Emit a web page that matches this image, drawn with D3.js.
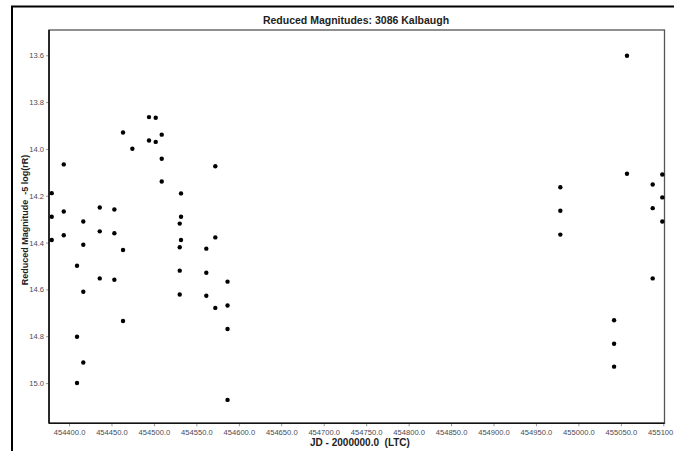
<!DOCTYPE html>
<html>
<head>
<meta charset="utf-8">
<script src="https://cdn.jsdelivr.net/npm/d3@7"></script>
<style>
  body { margin: 0; background: #fff; }
  svg { display: block; font-family: "Liberation Sans", Arial, sans-serif; }
  .tick text { fill: #4a4a55; font-size: 7.6px; }
</style>
</head>
<body>
<svg id="chart" width="674" height="451"></svg>
<script>
// ========== Data ==========
const title = 'Reduced Magnitudes: 3086 Kalbaugh';
const xLabel = 'JD - 2000000.0  (LTC)';
const yLabel = 'Reduced Magnitude  -5 log(rR)';

const jd = [
  454379.6, 454379.6, 454379.6,
  454393.8, 454393.8, 454393.8,
  454409.4, 454409.4, 454409.4,
  454416.8, 454416.8, 454416.8, 454416.8,
  454436.2, 454436.2, 454436.2,
  454453.4, 454453.4, 454453.4,
  454463.6, 454463.6, 454463.6,
  454474.6,
  454494.2, 454494.2,
  454502.1, 454502.1,
  454509.2, 454509.2, 454509.2,
  454530.4, 454530.4, 454530.4, 454530.4,
  454531.9, 454531.9, 454531.9,
  454561.7, 454561.7, 454561.7,
  454572.3, 454572.3, 454572.3,
  454586.7, 454586.7, 454586.7, 454586.7,
  454978.7, 454978.7, 454978.7,
  455042.0, 455042.0, 455042.0,
  455057.2, 455057.2,
  455087.5, 455087.5, 455087.5,
  455098.8, 455098.8, 455098.8
];
const mag = [
  14.189, 14.290, 14.389,
  14.066, 14.267, 14.369,
  14.499, 14.802, 15.000,
  14.310, 14.409, 14.610, 14.912,
  14.250, 14.352, 14.553,
  14.259, 14.360, 14.559,
  13.930, 14.432, 14.735,
  13.999,
  13.864, 13.964,
  13.867, 13.970,
  13.939, 14.042, 14.139,
  14.319, 14.420, 14.520, 14.622,
  14.190, 14.290, 14.389,
  14.426, 14.529, 14.627,
  14.074, 14.378, 14.679,
  14.567, 14.669, 14.769, 15.072,
  14.164, 14.264, 14.366,
  14.732, 14.832, 14.930,
  13.602, 14.106,
  14.152, 14.253, 14.553,
  14.109, 14.207, 14.310
];

const xTicks = d3.range(454400, 455100.1, 50);
const yTicks = [13.6, 13.8, 14.0, 14.2, 14.4, 14.6, 14.8, 15.0];

// ========== Config ==========
const plot = { left: 49, top: 30, right: 664.5, bottom: 423.3 };

const svg = d3.select('#chart');

// ========== Outer Frame ==========
svg.append('path')
  .attr('d', `M12,451 V6.5 H674`)
  .attr('fill', 'none')
  .attr('stroke', '#000')
  .attr('stroke-width', 2);

// ========== Scales ==========
const x = d3.scaleLinear()
  .domain([454376.4, 455101.4])
  .range([plot.left, plot.right]);

const y = d3.scaleLinear()
  .domain([13.492, 15.172])
  .range([plot.top, plot.bottom]);

// ========== Axes ==========
const xAxis = svg.append('g')
  .attr('transform', `translate(0, ${plot.bottom})`)
  .call(d3.axisBottom(x).tickValues(xTicks).tickSize(3).tickPadding(3)
    .tickFormat(d3.format('.1f')));

const yAxis = svg.append('g')
  .attr('transform', `translate(${plot.left}, 0)`)
  .call(d3.axisLeft(y).tickValues(yTicks).tickSize(3).tickPadding(2)
    .tickFormat(d3.format('.1f')));

[xAxis, yAxis].forEach(a => {
  a.select('.domain').remove();
  a.selectAll('.tick line').attr('stroke', '#999');
});

// Plot frame
svg.append('rect')
  .attr('x', plot.left)
  .attr('y', plot.top)
  .attr('width', plot.right - plot.left)
  .attr('height', plot.bottom - plot.top)
  .attr('fill', 'none')
  .attr('stroke', '#555')
  .attr('stroke-width', 1.3);

svg.append('line')
  .attr('x1', plot.left).attr('x2', plot.right)
  .attr('y1', plot.bottom).attr('y2', plot.bottom)
  .attr('stroke', '#111')
  .attr('stroke-width', 1.6);
svg.append('line')
  .attr('x1', plot.left).attr('x2', plot.left)
  .attr('y1', plot.top).attr('y2', plot.bottom)
  .attr('stroke', '#111')
  .attr('stroke-width', 1.6);

// ========== Points ==========
svg.append('g')
  .selectAll('circle')
  .data(jd.map((d, i) => [d, mag[i]]))
  .join('circle')
  .attr('cx', d => x(d[0]))
  .attr('cy', d => y(d[1]))
  .attr('r', 2.2)
  .attr('fill', '#000');

// ========== Labels ==========
svg.append('text')
  .attr('x', 356)
  .attr('y', 24)
  .attr('text-anchor', 'middle')
  .attr('font-size', 10.5)
  .attr('font-weight', 'bold')
  .attr('fill', '#222')
  .text(title);

svg.append('text')
  .attr('x', 360)
  .attr('y', 446)
  .attr('text-anchor', 'middle')
  .attr('font-size', 10)
  .attr('font-weight', 'bold')
  .attr('fill', '#222')
  .style('white-space', 'pre')
  .text(xLabel);

svg.append('text')
  .attr('transform', 'translate(28, 220) rotate(-90)')
  .attr('text-anchor', 'middle')
  .attr('font-size', 9)
  .attr('font-weight', 'bold')
  .attr('fill', '#222')
  .style('white-space', 'pre')
  .text(yLabel);
</script>
</body>
</html>
